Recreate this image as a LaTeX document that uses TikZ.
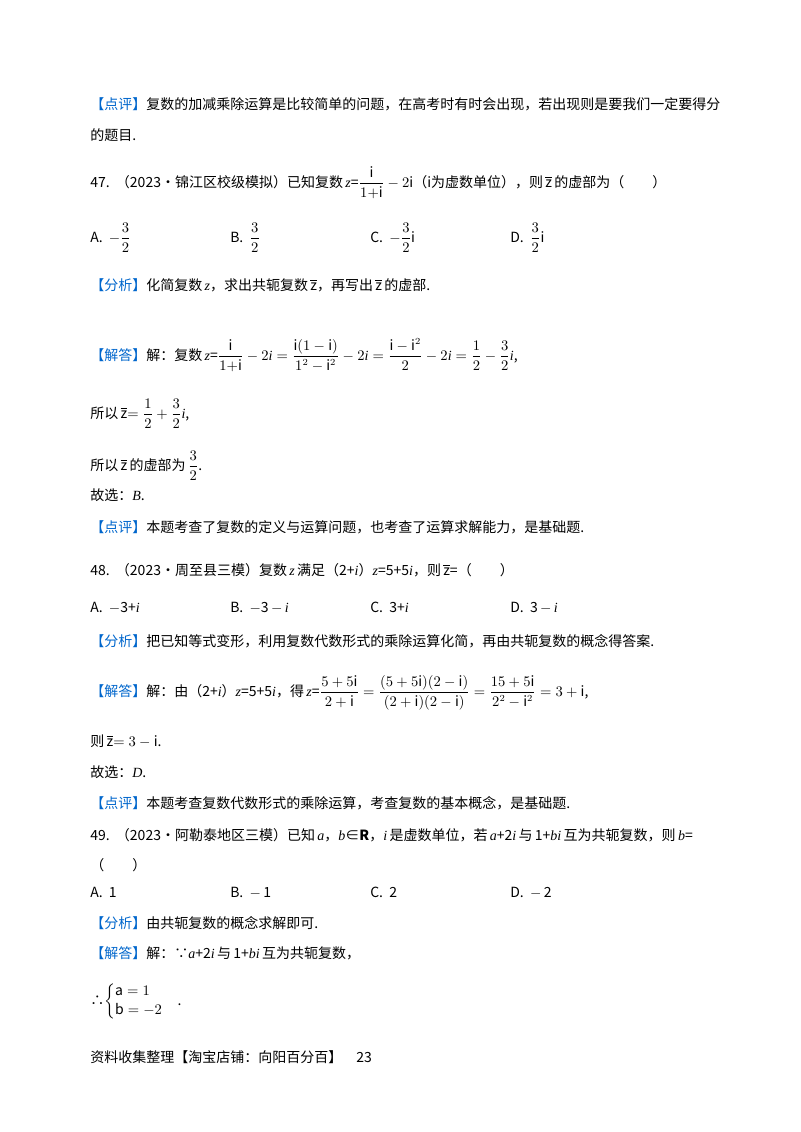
\documentclass[tikz,border=0pt]{standalone}
\usepackage{amsmath}
\usepackage{fontspec}
\setmainfont{Noto Sans CJK SC}
\newfontfamily\lat{Liberation Serif}
\definecolor{tagblue}{RGB}{0,102,204}
\newcommand{\tg}[1]{\textcolor{tagblue}{【#1】}}
\newcommand{\vi}[1]{\text{\lat\itshape #1}}
\newcommand{\zb}{$\overline{\mathrm{z}}$}
\begin{document}
\begin{tikzpicture}[x=0.75pt,y=-0.75pt,
  txt/.style={anchor=base west,inner sep=0pt,font=\fontsize{10.5}{12}\selectfont}]
\useasboundingbox (0,0) rectangle (800,1132);
\node[txt] (l1) at (90,109) {\tg{点评}复数的加减乘除运算是比较简单的问题，在高考时有时会出现，若出现则是要我们一定要得分};
\node[txt] (l2) at (90,140) {的题目.};
\node[txt] (q47) at (90,187) {47.\ \ （2023•锦江区校级模拟）已知复数\,\vi{z}=$\dfrac{\mathrm{i}}{1{+}\mathrm{i}}-2\mathrm{i}$（i为虚数单位），则\,\zb\,的虚部为（\qquad）};
\node[txt] (a47) at (90,242) {A.\ \ $-\dfrac{3}{2}$};
\node[txt] (b47) at (230,242) {B.\ \ $\dfrac{3}{2}$};
\node[txt] (c47) at (370,242) {C.\ \ $-\dfrac{3}{2}\mathrm{i}$};
\node[txt] (d47) at (510,242) {D.\ \ $\dfrac{3}{2}\mathrm{i}$};
\node[txt] (f47) at (90,290) {\tg{分析}化简复数\,\vi{z}，求出共轭复数\,\zb，再写出\,\zb\,的虚部.};
\node[txt] (s47) at (90,360) {\tg{解答}解：复数\,\vi{z}=$\dfrac{\mathrm{i}}{1{+}\mathrm{i}}-2\vi{i}=\dfrac{\mathrm{i}(1-\mathrm{i})}{1^2-\mathrm{i}^2}-2\vi{i}=\dfrac{\mathrm{i}-\mathrm{i}^2}{2}-2\vi{i}=\dfrac12-\dfrac32\vi{i}$,};
\node[txt] (t47) at (90,418) {所以\,\zb$=\dfrac12+\dfrac32\vi{i}$,};
\node[txt] (u47) at (90,470) {所以\,\zb\,的虚部为\,$\dfrac32$.};
\node[txt] (g47) at (90,500) {故选：\vi{B}.};
\node[txt] (p47) at (90,532) {\tg{点评}本题考查了复数的定义与运算问题，也考查了运算求解能力，是基础题.};
\node[txt] (q48) at (90,575) {48.\ \ （2023•周至县三模）复数\,\vi{z}\,满足（2+\vi{i}）\vi{z}=5+5\vi{i}，则\,\zb=（\qquad）};
\node[txt] (a48) at (90,612) {A.\ \ \(-\)3+\vi{i}};
\node[txt] (b48) at (230,612) {B.\ \ \(-\)3\,\(-\)\,\vi{i}};
\node[txt] (c48) at (370,612) {C.\ \ 3+\vi{i}};
\node[txt] (d48) at (510,612) {D.\ \ 3\,\(-\)\,\vi{i}};
\node[txt] (f48) at (90,646) {\tg{分析}把已知等式变形，利用复数代数形式的乘除运算化简，再由共轭复数的概念得答案.};
\node[txt] (s48) at (90,696) {\tg{解答}解：由（2+\vi{i}）\vi{z}=5+5\vi{i}，得\,\vi{z}=$\dfrac{5+5\mathrm{i}}{2+\mathrm{i}}=\dfrac{(5+5\mathrm{i})(2-\mathrm{i})}{(2+\mathrm{i})(2-\mathrm{i})}=\dfrac{15+5\mathrm{i}}{2^2-\mathrm{i}^2}=3+\mathrm{i}$,};
\node[txt] (t48) at (90,746) {则\,\zb$=3-\mathrm{i}$.};
\node[txt] (g48) at (90,777) {故选：\vi{D}.};
\node[txt] (p48) at (90,808) {\tg{点评}本题考查复数代数形式的乘除运算，考查复数的基本概念，是基础题.};
\node[txt] (q49) at (90,840) {49.\ \ （2023•阿勒泰地区三模）已知\,\vi{a}，\vi{b}∈\textbf{R}，\vi{i}\,是虚数单位，若\,\vi{a}+2\vi{i}\,与\,1+\vi{b}\vi{i}\,互为共轭复数，则\,\vi{b}=};
\node[txt] (q49b) at (90,870) {（\qquad）};
\node[txt] (a49) at (90,897) {A.\ \ 1};
\node[txt] (b49) at (230,897) {B.\ \ \(-\)\,1};
\node[txt] (c49) at (370,897) {C.\ \ 2};
\node[txt] (d49) at (510,897) {D.\ \ \(-\)\,2};
\node[txt] (f49) at (90,928) {\tg{分析}由共轭复数的概念求解即可.};
\node[txt] (s49) at (90,958) {\tg{解答}解：∵\vi{a}+2\vi{i}\,与\,1+\vi{b}\vi{i}\,互为共轭复数，};
\node[txt] (t49) at (90,1005) {∴$\begin{cases}\mathrm{a}=1\\ \mathrm{b}=-2\end{cases}$.};
\node[txt] (ft) at (90,1062) {资料收集整理【淘宝店铺：向阳百分百】\quad 23};
\end{tikzpicture}
\end{document}
